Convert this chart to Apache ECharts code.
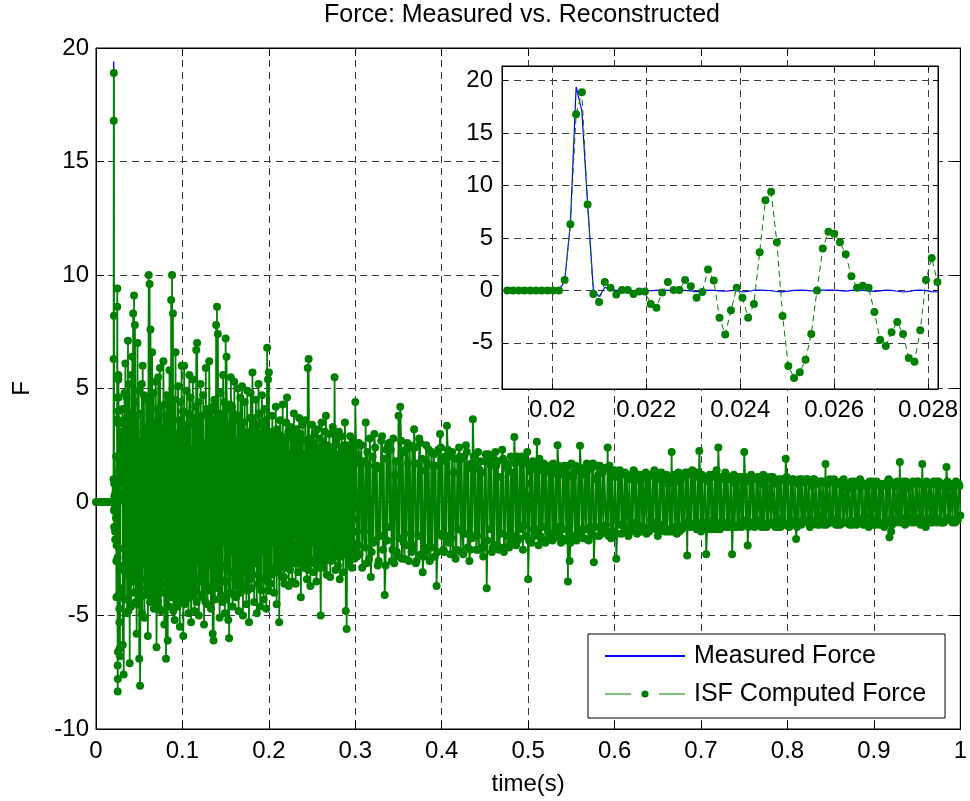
<!DOCTYPE html>
<html><head><meta charset="utf-8">
<script src="https://cdn.jsdelivr.net/npm/echarts@6/dist/echarts.min.js"></script>
<style>html,body{margin:0;padding:0;background:#fff}#chart{width:970px;height:801px}</style>
</head><body><div id="chart"></div>
<script>
const titleText = 'Force: Measured vs. Reconstructed';
const legendNames = ['Measured Force', 'ISF Computed Force'];
const xAxisName = 'time(s)';
const yAxisName = 'F';
const insetXTicks = [0.02, 0.022, 0.024, 0.026, 0.028];
const insetYTicks = [-5, 0, 5, 10, 15, 20];

// sampling of the zoomed window (Hz) and index of its first sample
const sampleRate = 8192;
const insetStartSample = 156;

// before the impact, t = 0 ... 0.018 s (step 1 ms)
const preZero = [0,0,0,0,0,0,0,0,0,0,0,0,0,0,0,0,0,0,0];

// zoomed window, samples 156..231
const measuredZoom = [
  0,0,0,0,0,0,0,0,0,0,
  0.9,6.4,19.4,17.1,8.3,0.1,-0.6,0.3,0.05,0,
  0.02,0,-0.02,0.01,0,-0.03,0,0.02,0,-0.02,
  0,0.01,-0.05,-0.12,-0.05,0.02,0,-0.04,-0.08,-0.02,
  0.02,-0.15,-0.1,0.02,0.03,0.01,-0.03,-0.1,-0.14,-0.06,
  0.01,0.03,0,-0.05,-0.02,0.02,0.04,0.03,-0.02,-0.06,
  0,0.03,0.01,-0.04,-0.1,-0.05,0.02,0.01,-0.08,-0.15,
  -0.1,0,0.03,-0.02,-0.12,-0.15
];
const isfZoom = [
  0,0,0,0,0,0,0,0,0,0,
  1.0,6.3,16.8,18.9,8.2,-0.35,-1.1,0.8,0.25,-0.4,
  0.05,0.05,-0.35,-0.1,-0.1,-1.3,-1.65,-0.2,0.8,0.05,
  0.05,1.0,0.4,-0.7,-0.15,2.0,0.95,-2.6,-4.2,-1.9,
  0.25,-0.7,-2.6,-1.3,3.65,8.6,9.4,4.6,-2.45,-7.2,
  -8.35,-7.8,-6.6,-4.15,0,4.0,5.6,5.4,4.6,3.45,
  1.35,0.25,0.45,0.25,-2.05,-4.7,-5.3,-4.0,-3.0,-4.15,
  -6.45,-6.8,-3.8,1.0,3.1,0.8
];

// ISF force, t = 0.030 ... 0.300 s (whole milliseconds)
const isfEarly = [
  2.4,-6.3,-7.6,4.8,6.1,-3.2,-4.9,7.1,3.5,-7.1,
  -2.2,5.6,6.4,8.3,9.1,7.8,-4.4,-5.8,7.0,1.3,
  -6.9,-8.1,3.9,5.2,6.0,-2.7,-5.1,0.8,4.6,-3.8,
  -5.9,10.0,9.6,7.6,-4.2,6.6,2.1,-4.7,-3.0,5.3,
  -6.4,4.1,5.5,-1.6,5.9,-4.8,-2.9,3.2,6.2,-5.4,
  -3.6,-6.9,4.7,-6.1,2.6,5.8,-4.0,8.9,10.0,8.3,
  -2.3,-5.2,6.6,3.0,-4.6,5.1,-1.2,-5.5,4.4,6.0,
  -3.9,-5.9,6.0,2.8,-4.3,4.9,-2.0,-4.9,5.6,3.4,
  -5.3,1.9,5.4,-3.5,-4.8,4.2,6.7,7.0,-2.6,-5.0,
  3.6,5.2,-4.1,-1.3,4.7,-5.4,2.2,5.9,-3.7,-4.5,
  4.0,6.2,-2.8,-4.7,3.3,-5.8,-6.1,4.5,1.7,7.8,
  8.6,7.4,-3.2,-5.1,4.8,2.4,-4.4,5.6,-1.8,-4.9,
  7.2,6.4,-3.0,-5.2,-6.0,4.3,5.5,-2.1,-4.6,3.9,
  5.3,-3.4,-4.2,2.7,5.0,-4.8,-1.4,4.6,3.1,5.1,
  -5.0,-3.1,4.4,1.2,-4.5,4.9,-2.4,-5.3,3.7,4.8,
  -3.8,5.7,2.0,-4.4,-2.7,4.5,-4.9,3.4,5.2,-3.3,
  -4.6,3.0,4.7,-2.2,-4.3,4.1,1.5,-4.7,6.8,5.4,
  5.7,-3.0,-3.6,3.1,3.8,-1.5,-4.0,2.4,4.2,-4.5,
  -2.2,3.0,-5.3,3.6,0.9,-3.3,4.3,2.7,-3.6,-1.7,
  3.5,4.6,-2.9,-3.7,2.0,3.3,-2.4,-3.5,3.0,3.9,
  -1.4,-3.6,3.2,1.8,-3.1,3.7,-2.6,-4.2,2.7,3.4,
  -2.9,2.1,3.6,-2.0,-3.4,5.9,6.3,-2.5,-3.7,2.5,
  3.4,-1.2,-3.1,3.0,1.3,-3.5,3.2,-2.0,-2.9,2.8,
  -5.0,3.5,1.7,-2.9,-1.9,3.1,3.8,-3.2,-1.0,2.4,
  3.0,-3.3,-2.6,2.2,3.3,-1.6,5.5,-3.0,2.8,1.1,
  -2.8,3.1,-3.4,1.9,2.9,-2.2,-3.1,2.5,3.5,-4.8,
  -5.6,2.4,1.4,-2.7,2.9,-1.8,-2.9,2.7,1.6,-2.5,4.4
];

// ISF force, t = 0.0305 ... 0.2995 s (half milliseconds)
const isfEarlyHalf = [
  4.1,3.6,-2.8,-4.3,2.9,4.6,-3.1,-4.8,5.2,3.9,
  -4.6,-3.5,-2.4,-4.0,-3.3,4.4,3.8,-2.6,-4.5,4.9,
  2.7,-4.2,-3.4,-4.9,3.1,4.7,3.3,-4.1,-2.2,4.5,
  2.0,-3.7,-4.4,3.0,-3.6,-4.3,4.8,3.5,-4.6,3.2,
  -3.3,-4.4,-2.6,-4.7,2.4,4.2,-4.0,-3.2,2.6,4.3,
  3.8,-2.5,3.6,4.4,-4.6,2.8,-3.0,-4.2,-3.5,-4.8,
  4.5,-3.4,-4.1,2.1,2.7,-4.4,3.6,-2.0,-4.3,2.4,
  4.0,-3.1,-4.5,3.4,-2.9,-4.0,3.9,-3.0,-4.2,4.6,
  -3.8,-4.1,2.3,3.7,2.2,-3.9,-4.4,3.2,4.4,-3.3,
  -3.5,2.0,3.8,-4.2,2.6,-3.1,-4.4,2.4,4.1,-2.7,
  -3.9,2.5,4.0,-2.1,4.2,3.6,-3.3,-4.3,-3.5,-2.9,
  -3.8,2.0,3.9,-3.4,-4.1,3.7,-2.8,3.3,4.4,-3.5,
  -4.3,2.7,4.1,3.4,-2.2,-4.0,3.2,4.2,-3.1,-4.1,
  2.2,3.6,-2.0,-3.7,2.6,3.8,-3.3,-4.0,-3.6,1.9,
  3.5,-2.3,-3.8,3.0,-2.0,-3.9,3.1,-1.9,-3.4,2.2,
  2.1,-3.2,3.7,3.3,-1.5,2.0,-2.4,-3.6,2.4,3.9,
  -2.1,-3.9,2.3,3.5,2.0,-3.4,3.6,2.1,-3.5,-3.9,
  1.8,2.9,-1.7,-3.2,2.7,3.0,-1.8,-2.9,2.0,3.2,
  -3.1,2.2,-1.9,-2.8,2.9,1.8,-2.6,-3.3,2.5,-2.9,
  -2.6,2.0,3.1,-1.8,-3.0,2.1,2.8,-2.2,-2.7,2.3,
  2.8,-1.9,-2.7,2.3,-2.0,2.5,3.0,-1.8,-2.6,1.9,
  -2.3,-2.8,1.6,2.7,-2.1,-3.0,2.2,2.8,-1.6,-2.7,
  2.4,2.6,-1.8,-2.6,2.3,-1.7,-2.8,2.4,1.9,-2.5,
  -2.0,-2.4,2.6,2.2,-2.6,-2.0,1.7,2.5,-2.3,-1.9,
  1.5,2.3,-1.8,-2.5,2.0,-2.4,2.5,-1.7,-2.3,2.1,
  -1.7,2.0,-2.3,-2.4,1.5,2.4,-1.8,-2.2,2.0,2.5,
  -2.2,-2.0,2.3,-1.6,-2.4,2.0,1.5,-2.1,2.4,1.7
];

// ISF force, t = 0.302 ... 1.000 s (even milliseconds)
const isfLateEven = [
  -2.4,2.6,1.8,-2.9,-1.3,3.5,2.2,-2.5,-3.3,2.0,
  3.0,-1.7,-2.8,1.5,2.7,-2.1,-4.1,2.3,2.5,-1.1,
  -2.6,2.8,1.2,-2.2,3.8,4.2,-2.5,-1.8,2.3,2.6,
  -2.6,-1.4,2.4,3.2,-2.7,1.7,2.8,-2.3,-3.1,1.4,
  2.5,-2.0,-2.6,2.2,1.6,-2.4,-3.7,2.3,3.0,-1.5,
  -2.1,2.0,3.36,-1.8,-2.3,2.2,1.3,-2.5,1.9,2.4,
  -2.2,-1.3,2.0,2.5,-2.0,-2.6,1.7,3.65,-1.5,-2.1,
  2.2,1.4,-2.0,-2.4,1.8,-3.8,2.1,-1.2,-2.2,1.9,
  2.2,-1.9,-2.1,1.1,2.3,-2.2,1.6,-1.5,-2.0,2.0,
  1.3,2.86,-1.9,-1.7,1.8,2.0,-2.1,-1.0,1.7,-3.4,
  1.5,-1.8,-1.2,1.6,2.65,-1.9,-1.5,1.4,1.7,-1.8,
  -1.1,1.6,1.3,-1.7,-1.6,1.5,2.5,-1.4,-1.8,1.2,
  1.6,-1.7,-3.5,-2.6,1.7,1.1,-1.5,-1.7,1.5,2.48,
  -1.3,-1.6,1.4,1.7,-1.7,-1.1,1.5,-2.65,1.0,1.6,
  -1.5,-1.4,1.3,1.5,-1.0,2.4,1.6,-1.6,-1.3,1.4,
  -2.5,1.1,1.4,-1.4,-1.0,1.3,1.2,-1.5,-1.2,1.0,
  1.4,-0.9,-1.4,1.2,0.9,-1.3,-1.1,1.3,1.2,-1.3,
  -0.8,1.2,1.4,-1.2,-1.5,1.0,1.3,-1.0,-1.3,1.2,
  0.8,-1.3,2.2,1.1,-1.1,-1.4,1.3,0.9,-1.2,-1.0,
  1.3,-2.36,-1.0,1.2,1.4,-1.1,-0.9,1.3,2.25,-1.3,
  -1.0,1.1,-2.3,0.9,1.2,-1.2,-0.8,1.1,1.4,2.4,
  -1.2,-1.0,1.0,1.3,-1.1,-0.9,1.0,-2.3,1.2,0.8,
  -1.1,-1.0,1.1,0.9,2.2,-1.0,-1.92,1.0,1.2,-0.9,
  -1.1,1.0,1.1,-0.8,-1.1,1.2,0.7,-1.1,-0.9,1.0,
  1.1,-1.0,-1.1,0.9,1.0,-1.1,-0.7,1.0,1.9,-1.0,
  -1.1,0.9,1.0,-0.9,-1.63,0.8,1.0,-1.0,-0.8,0.9,
  1.0,-0.9,-1.1,0.7,1.0,-0.9,-1.0,0.8,0.9,-0.6,
  -1.0,1.67,0.8,-0.9,-0.9,0.9,1.0,-1.0,-0.7,0.8,
  0.9,-0.9,-0.9,0.8,0.6,-1.0,0.9,0.8,-0.9,-1.0,
  0.8,1.0,-0.8,-1.0,0.7,0.8,-1.1,-0.6,0.9,0.8,
  -1.0,-0.8,0.8,0.7,-0.9,-1.1,0.8,0.9,-1.55,-1.3,
  0.8,0.7,-0.9,-0.7,1.76,0.8,0.9,-1.0,-0.8,0.6,
  0.8,-0.9,-0.7,0.8,0.9,-0.8,-1.0,1.67,0.7,-1.1,
  -0.7,0.8,0.8,-0.9,-0.6,0.9,0.7,-0.8,-0.9,0.8,
  0.8,1.54,-0.7,-0.8,0.8,0.6,-0.9,-0.7,0.8,-0.6
];

// ISF force, t = 0.301 ... 0.999 s (odd milliseconds)
const isfLateOdd = [
  2.1,-1.9,-2.3,2.5,1.8,-2.0,-2.7,1.6,2.8,-2.2,
  -1.8,2.4,1.6,-2.6,-1.5,2.9,1.9,-2.8,-1.7,2.6,
  2.3,-2.1,-2.7,1.8,-2.4,-1.6,2.7,2.2,-2.5,-1.9,
  1.7,2.5,-2.2,-1.9,2.4,-2.6,-1.5,2.6,1.9,-2.4,
  -2.2,1.7,2.3,-2.5,-2.0,2.1,1.6,-2.2,-1.4,2.4,
  1.8,-2.2,-1.5,2.3,2.0,-1.6,-2.3,1.9,-2.1,-1.2,
  2.0,1.9,-2.3,-1.4,2.2,1.5,-2.1,-1.6,2.0,1.7,
  -1.5,-2.1,1.8,1.3,-2.0,2.1,-1.7,2.0,1.6,-2.0,
  -1.9,1.6,1.8,-2.0,-1.4,1.9,-2.0,1.7,1.4,-1.8,
  -1.8,-1.5,1.7,2.0,-1.6,-1.2,1.8,1.9,-1.5,2.2,
  -1.7,1.4,1.8,-1.5,-1.2,1.7,1.9,-1.6,-1.1,1.5,
  1.6,-1.3,-1.6,1.2,1.7,-1.4,-1.1,1.6,1.3,-1.6,
  -1.2,1.5,1.2,1.6,-1.8,-1.5,1.3,1.6,-1.4,-1.2,
  1.5,1.2,-1.6,-1.2,1.4,1.6,-1.4,1.7,-1.5,-1.1,
  1.2,1.6,-1.4,-1.1,1.5,-1.3,-1.5,1.4,1.1,-1.5,
  1.3,-1.4,-1.0,1.3,1.2,-1.1,-1.3,1.2,1.0,-1.3,
  -1.1,1.3,1.1,-1.0,-1.3,1.0,1.2,-1.1,-1.4,1.1,
  1.2,-1.1,-0.9,1.3,1.1,-1.3,-1.0,1.2,1.0,-1.2,
  -1.3,1.0,-1.2,-1.3,1.2,0.9,-1.1,-1.3,1.0,1.2,
  -0.9,1.2,1.3,-1.1,-1.0,1.3,1.1,-1.2,-0.9,1.1,
  1.2,-0.9,1.0,-1.2,-1.0,1.1,1.2,-1.0,-1.2,-0.9,
  1.0,1.1,-1.1,-0.9,1.2,1.0,-1.1,1.1,-1.0,-1.1,
  0.9,1.1,-1.0,-1.1,-0.8,1.1,0.9,-1.1,-0.9,1.0,
  1.0,-0.9,-1.0,1.1,0.8,-1.0,-1.1,1.0,1.1,-0.9,
  -0.9,1.1,0.8,-1.0,-1.1,0.9,1.0,-0.9,-1.0,1.1,
  0.9,-1.0,-0.8,1.0,0.9,-1.1,-0.9,0.8,1.0,-0.9,
  -0.8,1.0,0.9,-1.0,-0.8,1.0,0.8,-0.9,-1.0,0.9,
  0.9,-0.8,-1.0,0.8,1.0,-0.8,-0.9,0.9,0.8,-1.0,
  -1.0,0.8,1.0,-0.9,-0.9,0.8,-0.8,-1.0,0.9,0.7,
  -0.9,-0.7,0.9,0.8,-0.9,-1.0,0.7,0.9,-0.8,-1.0,
  0.7,0.9,-0.9,-1.0,0.8,0.7,-0.9,-0.8,1.0,0.9,
  -1.0,-0.8,0.7,0.9,-0.8,-0.9,-0.7,0.8,0.9,-0.9,
  -0.7,0.8,0.9,-0.9,-0.7,0.9,0.8,-0.9,-0.8,0.8,
  0.9,-0.7,-0.9,0.8,0.9,-0.7,-0.9,0.9,0.7,-0.9,
  -0.9,-0.8,0.9,0.7,-0.8,-0.9,0.8,0.9,-0.8,0.7
];

// measured force after the window (flat)
const measuredTailTimes = [0.03,0.1,0.2,0.3,0.4,0.5,0.6,0.7,0.8,0.9,1.0];
const measuredTail = [0,0,0,0,0,0,0,0,0,0,0];

const FONT = "'Liberation Sans', Arial, Helvetica, sans-serif";
const BLUE = '#0000ff', GREEN = '#008000';

const pairs = (ts, vs) => ts.map((t, i) => [t, vs[i]]);
const byTime = (a, b) => a[0] - b[0];
const preTimes = preZero.map((_, k) => k / 1000);
const zoomTimes = isfZoom.map((_, i) => (insetStartSample + i) / sampleRate);
const earlyTimes = isfEarly.map((_, k) => +(0.030 + k * 0.001).toFixed(4));
const halfTimes = isfEarlyHalf.map((_, k) => +(0.0305 + k * 0.001).toFixed(4));
const evenTimes = isfLateEven.map((_, j) => +(0.302 + j * 0.002).toFixed(4));
const oddTimes = isfLateOdd.map((_, j) => +(0.301 + j * 0.002).toFixed(4));

const earlyPairs = [].concat(pairs(earlyTimes, isfEarly), pairs(halfTimes, isfEarlyHalf)).sort(byTime);
const latePairs = [].concat(pairs(oddTimes, isfLateOdd), pairs(evenTimes, isfLateEven)).sort(byTime);
const isfMain = [].concat(pairs(preTimes, preZero), pairs(zoomTimes, isfZoom), earlyPairs, latePairs);
const measuredMain = [].concat(pairs(preTimes, preZero), pairs(zoomTimes, measuredZoom),
  pairs(measuredTailTimes, measuredTail));
const isfInset = pairs(zoomTimes, isfZoom);
const measuredInset = pairs(zoomTimes, measuredZoom);

const gridLine = { show: true, lineStyle: { color: '#3a3a3a', width: 1, type: [7, 5] } };
const axLine = { show: true, onZero: false, lineStyle: { color: '#000', width: 1 } };
const lbl = (extra) => Object.assign({ fontSize: 24, color: '#000', fontFamily: FONT }, extra);

const chart = echarts.init(document.getElementById('chart'), null, { renderer: 'canvas' });
chart.setOption({
  animation: false,
  backgroundColor: '#fff',
  title: {
    text: titleText, left: 324, top: 3, padding: 0,
    textStyle: { fontSize: 25, fontWeight: 'normal', color: '#000', fontFamily: FONT }
  },
  legend: {
    data: [
      { name: legendNames[0], itemStyle: { color: 'rgba(0,0,0,0)', borderWidth: 0 } },
      { name: legendNames[1], lineStyle: { type: [26, 28], width: 1 } }
    ],
    orient: 'vertical', left: 588, top: 634,
    itemWidth: 80, itemHeight: 9, itemGap: 10,
    padding: [8, 19, 10, 16],
    backgroundColor: '#fff', borderColor: '#000', borderWidth: 1, borderRadius: 0,
    selectedMode: false,
    textStyle: { fontSize: 25, color: '#000', fontFamily: FONT, lineHeight: 28, padding: [0, 0, 0, 4] }
  },
  grid: [
    { left: 96, right: 6, top: 48, bottom: 71, show: true, backgroundColor: '#fff', borderColor: '#000', borderWidth: 1, z: 0 },
    { left: 502, right: 32, top: 66, bottom: 412, show: true, backgroundColor: '#fff', borderColor: '#000', borderWidth: 1, z: 10 }
  ],
  xAxis: [
    { gridIndex: 0, type: 'value', min: 0, max: 1, interval: 0.1, position: 'bottom',
      axisLine: axLine, axisTick: { inside: true, length: 8, lineStyle: { color: '#000' } },
      axisLabel: lbl({ margin: 10 }), splitLine: gridLine,
      name: xAxisName, nameLocation: 'middle', nameGap: 43, nameTextStyle: lbl({}) },
    { gridIndex: 0, type: 'value', min: 0, max: 1, interval: 0.1, position: 'top',
      axisLine: axLine, axisTick: { inside: true, length: 8, lineStyle: { color: '#000' } },
      axisLabel: { show: false }, splitLine: { show: false } },
    { gridIndex: 1, type: 'value', min: 0.01893, max: 0.02821, position: 'bottom', z: 11,
      axisLine: axLine, axisTick: { inside: true, length: 5, customValues: insetXTicks, lineStyle: { color: '#000' } },
      axisLabel: lbl({ margin: 9, customValues: insetXTicks }), splitLine: gridLine },
    { gridIndex: 1, type: 'value', min: 0.01893, max: 0.02821, position: 'top', z: 11,
      axisLine: axLine, axisTick: { inside: true, length: 5, customValues: insetXTicks, lineStyle: { color: '#000' } },
      axisLabel: { show: false }, splitLine: { show: false } }
  ],
  yAxis: [
    { gridIndex: 0, type: 'value', min: -10, max: 20, interval: 5, position: 'left',
      axisLine: axLine, axisTick: { inside: true, length: 8, lineStyle: { color: '#000' } },
      axisLabel: lbl({ margin: 7 }), splitLine: gridLine,
      name: yAxisName, nameLocation: 'middle', nameRotate: 90, nameGap: 62, nameTextStyle: lbl({}) },
    { gridIndex: 0, type: 'value', min: -10, max: 20, interval: 5, position: 'right',
      axisLine: axLine, axisTick: { inside: true, length: 8, lineStyle: { color: '#000' } },
      axisLabel: { show: false }, splitLine: { show: false } },
    { gridIndex: 1, type: 'value', min: -9.4, max: 21.4, position: 'left', z: 11,
      axisLine: axLine, axisTick: { inside: true, length: 5, customValues: insetYTicks, lineStyle: { color: '#000' } },
      axisLabel: lbl({ margin: 9, customValues: insetYTicks }), splitLine: gridLine },
    { gridIndex: 1, type: 'value', min: -9.4, max: 21.4, position: 'right', z: 11,
      axisLine: axLine, axisTick: { inside: true, length: 5, customValues: insetYTicks, lineStyle: { color: '#000' } },
      axisLabel: { show: false }, splitLine: { show: false } }
  ],
  series: [
    { name: legendNames[0], type: 'line', xAxisIndex: 0, yAxisIndex: 0, data: measuredMain,
      symbol: 'none', silent: true, z: 2,
      itemStyle: { color: BLUE }, lineStyle: { color: BLUE, width: 1 } },
    { name: legendNames[1], type: 'line', xAxisIndex: 0, yAxisIndex: 0, data: isfMain,
      symbol: 'circle', symbolSize: 8, showSymbol: true, silent: true, z: 3,
      itemStyle: { color: GREEN, borderWidth: 0 }, lineStyle: { color: GREEN, width: 1.8 } },
    { name: legendNames[0], type: 'line', xAxisIndex: 2, yAxisIndex: 2, data: measuredInset,
      symbol: 'none', silent: true, z: 12,
      itemStyle: { color: BLUE }, lineStyle: { color: BLUE, width: 1.2 } },
    { name: legendNames[1], type: 'line', xAxisIndex: 2, yAxisIndex: 2, data: isfInset,
      symbol: 'circle', symbolSize: 8, showSymbol: true, silent: true, z: 13,
      itemStyle: { color: GREEN, borderWidth: 0 }, lineStyle: { color: GREEN, width: 1, type: [6, 4] } }
  ]
});
</script></body></html>
